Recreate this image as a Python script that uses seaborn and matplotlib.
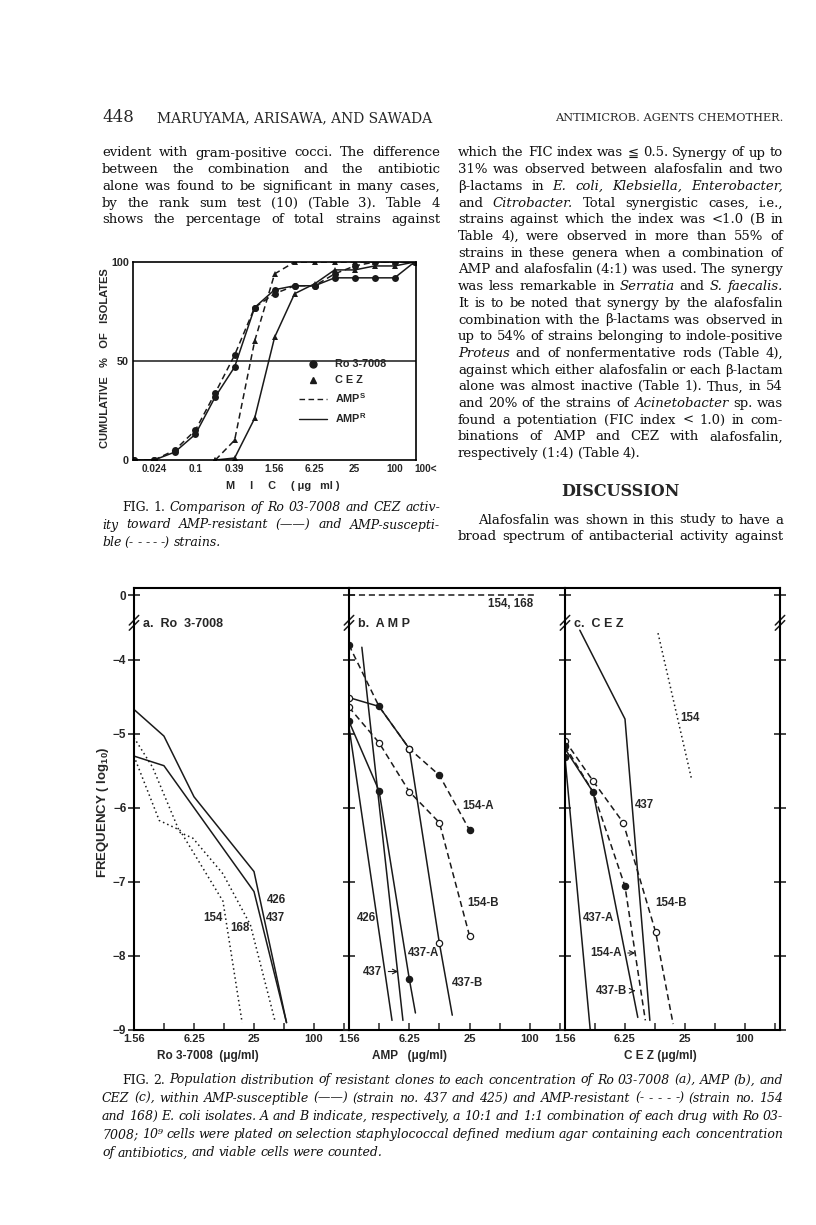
import numpy as np
import pandas as pd
import seaborn as sns
import matplotlib.pyplot as plt
from matplotlib import transforms
from matplotlib.lines import Line2D
from matplotlib.ticker import FixedLocator, NullFormatter

# ---------------- Fig. 1 data (cumulative % of isolates vs MIC)
mic = [0.012, 0.024, 0.049, 0.1, 0.2, 0.39, 0.78, 1.56, 3.12, 6.25, 12.5, 25, 50, 100, 200]
mic_ticks = [0.024, 0.1, 0.39, 1.56, 6.25, 25, 100, 200]
mic_labels = ["0.024", "0.1", "0.39", "1.56", "6.25", "25", "100", "100<"]
ro_amps = [0, 0, 5, 15, 34, 53, 77, 84, 88, 88, 94, 98, 100, 100, 100]
ro_ampr = [0, 0, 4, 13, 32, 47, 77, 86, 88, 88, 92, 92, 92, 92, 100]
cez_mic = [0.2, 0.39, 0.78, 1.56, 3.12, 6.25, 12.5, 25, 50, 100, 200]
cez_amps = [0, 10, 60, 94, 100, 100, 100, 100, 100, 100, 100]
cez_ampr = [0, 1, 21, 62, 84, 89, 96, 96, 98, 98, 100]

# ---------------- Fig. 2 data (log10 frequency vs concentration, ug/ml)
# panel a, Ro 3-7008
a426_c = [1.56, 3.12, 6.25, 25, 53]
a426_v = [-4.67, -5.03, -5.85, -6.86, -8.9]
a437_c = [1.56, 3.12, 25, 53]
a437_v = [-5.3, -5.43, -7.13, -8.9]
a154_c = [1.56, 2.8, 4.5, 12.2, 19]
a154_v = [-5.3, -6.17, -6.3, -7.26, -8.9]
a168_c = [1.56, 2.4, 4.5, 6.1, 12.2, 23, 41]
a168_v = [-5.05, -5.45, -6.33, -6.41, -6.89, -7.58, -8.9]
# panel b, AMP
b154_c = [1.56, 109]
b154_v = [0, 0]
b154A_c = [1.56, 3.12, 6.25, 12.5, 25]
b154A_v = [-3.8, -4.63, -5.2, -5.56, -6.3]
b154B_c = [1.56, 3.12, 6.25, 12.5, 25]
b154B_v = [-4.64, -5.12, -5.78, -6.2, -7.73]
b437A_c = [1.56, 3.12, 6.25, 7.2]
b437A_v = [-4.83, -5.77, -8.31, -8.77]
b437B_c = [1.56, 3.12, 6.25, 12.5, 16.8]
b437B_v = [-4.51, -4.63, -5.2, -7.83, -8.8]
b426_c = [1.56, 4.2]
b426_v = [-4.9, -8.87]
b437_c = [2.1, 5.4]
b437_v = [-3.83, -8.87]
# panel c, CEZ
c437_c = [2.2, 6.25, 11.1]
c437_v = [-3.6, -4.8, -8.87]
c154_c = [13.4, 29.3]
c154_v = [-3.64, -5.63]
c154B_c = [1.56, 3.0, 6.0, 12.7, 19]
c154B_v = [-5.09, -5.64, -6.2, -7.68, -8.92]
c154A_c = [1.56, 3.0, 6.25, 10]
c154A_v = [-5.16, -5.79, -7.06, -8.87]
c437A_c = [1.56, 2.8]
c437A_v = [-5.31, -9.0]
c437B_c = [1.56, 3.0, 8.4]
c437B_v = [-5.2, -5.79, -8.83]

ZPOS = -3.13          # where the "0" level sits above the axis break
SERIF = ["DejaVu Serif", "DejaVu Sans"]
SANS = ["Liberation Sans", "DejaVu Sans"]

sns.set_theme(style="ticks")
plt.rcParams["font.family"] = SANS
plt.rcParams["axes.edgecolor"] = "black"

W, H = 816, 1225
fig = plt.figure(figsize=(W / 100, H / 100), dpi=100)
R = fig.canvas.get_renderer()


def px(x, y):
    return x / W, 1 - y / H


def rect(l, t, r, b):
    return [l / W, 1 - b / H, (r - l) / W, (b - t) / H]


def put_line(x0, x1, y, line, size, italic=False, justify=True, weight="normal"):
    objs, widths = [], []
    for tok in line.split(" "):
        it = italic
        if tok.startswith("~"):
            tok = tok[1:]
            it = not italic
        t = fig.text(0, 0, tok, fontsize=size, family=SERIF, weight=weight,
                     style="italic" if it else "normal", va="center", color="#111")
        objs.append(t)
        widths.append(t.get_window_extent(R).width)
    gap = size * 100 / 72 * 0.28
    if justify and len(objs) > 1:
        gap = (x1 - x0 - sum(widths)) / (len(objs) - 1)
    x = x0
    for t, w in zip(objs, widths):
        t.set_position(px(x, y))
        x += w + gap


# ---------------- page text
fig.text(*px(102, 118), "448", fontsize=12, family=SERIF, va="center")
fig.text(*px(157, 118), "MARUYAMA, ARISAWA, AND SAWADA", fontsize=10, family=SERIF, va="center")
fig.text(*px(783, 118), "ANTIMICROB. AGENTS CHEMOTHER.", fontsize=8.2, family=SERIF,
         va="center", ha="right")

left_lines = [
    "evident with gram-positive cocci. The difference",
    "between the combination and the antibiotic",
    "alone was found to be significant in many cases,",
    "by the rank sum test (10) (Table 3). Table 4",
    "shows the percentage of total strains against",
]
right_lines = [
    "which the FIC index was ≦ 0.5. Synergy of up to",
    "31% was observed between alafosfalin and two",
    "β-lactams in ~E. ~coli, ~Klebsiella, ~Enterobacter,",
    "and ~Citrobacter. Total synergistic cases, i.e.,",
    "strains against which the index was <1.0 (B in",
    "Table 4), were observed in more than 55% of",
    "strains in these genera when a combination of",
    "AMP and alafosfalin (4:1) was used. The synergy",
    "was less remarkable in ~Serratia and ~S. ~faecalis.",
    "It is to be noted that synergy by the alafosfalin",
    "combination with the β-lactams was observed in",
    "up to 54% of strains belonging to indole-positive",
    "~Proteus and of nonfermentative rods (Table 4),",
    "against which either alafosfalin or each β-lactam",
    "alone was almost inactive (Table 1). Thus, in 54",
    "and 20% of the strains of ~Acinetobacter sp. was",
    "found a potentiation (FIC index < 1.0) in com-",
    "binations of AMP and CEZ with alafosfalin,",
    "respectively (1:4) (Table 4).",
]
LS = 16.7
for i, ln in enumerate(left_lines):
    put_line(102, 440, 153 + LS * i, ln, 9.5)
for i, ln in enumerate(right_lines):
    put_line(458, 783, 153 + LS * i, ln, 9.5, justify=i < len(right_lines) - 1)

fig.text(*px(620, 492), "DISCUSSION", fontsize=11.5, family=SERIF, weight="bold",
         ha="center", va="center")
put_line(478, 783, 520, "Alafosfalin was shown in this study to have a", 9.5)
put_line(458, 783, 537, "broad spectrum of antibacterial activity against", 9.5)

put_line(122, 440, 507, "~FIG. ~1. Comparison of Ro 03-7008 and CEZ activ-", 9, italic=True)
put_line(102, 440, 525, "ity toward AMP-resistant (——) and AMP-suscepti-", 9, italic=True)
put_line(102, 440, 543, "ble (- - - - -) strains.", 9, italic=True, justify=False)

cap2 = [
    "~FIG. ~2. Population distribution of resistant clones to each concentration of Ro 03-7008 (a), AMP (b), and",
    "CEZ (c), within AMP-susceptible (——) (strain no. 437 and 425) and AMP-resistant (- - - - -) (strain no. 154",
    "and 168) E. coli isolates. A and B indicate, respectively, a 10:1 and 1:1 combination of each drug with Ro 03-",
    "7008; 10⁹ cells were plated on selection staphylococcal defined medium agar containing each concentration",
    "of antibiotics, and viable cells were counted.",
]
for i, ln in enumerate(cap2):
    put_line(122 if i == 0 else 102, 783, 1080 + 18.2 * i, ln, 9, italic=True,
             justify=i < len(cap2) - 1)

# ---------------- Fig. 1
ax1 = fig.add_axes(rect(133, 262, 416, 460))
f1 = pd.DataFrame({"mic": mic, "ro_s": ro_amps, "ro_r": ro_ampr})
f1c = pd.DataFrame({"mic": cez_mic, "cez_s": cez_amps, "cez_r": cez_ampr})
dash = (0, (4, 2.5))
sns.lineplot(data=f1, x="mic", y="ro_s", ax=ax1, color="k", lw=1.1, linestyle=dash,
             marker="o", markersize=5, markeredgewidth=0, estimator=None, sort=False)
sns.lineplot(data=f1, x="mic", y="ro_r", ax=ax1, color="k", lw=1.1,
             marker="o", markersize=5, markeredgewidth=0, estimator=None, sort=False)
sns.lineplot(data=f1c, x="mic", y="cez_s", ax=ax1, color="k", lw=1.1, linestyle=dash,
             marker="^", markersize=4, markeredgewidth=0, estimator=None, sort=False)
sns.lineplot(data=f1c, x="mic", y="cez_r", ax=ax1, color="k", lw=1.1,
             marker="^", markersize=4, markeredgewidth=0, estimator=None, sort=False)
ax1.axhline(50, color="k", lw=1.1)
ax1.set_xscale("log", base=2)
ax1.set_xlim(0.0115, 210)
ax1.set_ylim(0, 100)
ax1.xaxis.set_major_locator(FixedLocator(mic_ticks))
ax1.xaxis.set_minor_locator(FixedLocator([]))
ax1.set_xticklabels(mic_labels)
ax1.set_yticks([0, 50, 100])
ax1.tick_params(length=0, labelsize=7.8, pad=3)
ax1.tick_params(axis="x", labelsize=7.2)
for lab in ax1.get_xticklabels() + ax1.get_yticklabels():
    lab.set_fontweight("bold")
ax1.get_xticklabels()[-1].set_horizontalalignment("left")
ax1.get_xticklabels()[-1].set_x(0)
ax1.set_xlabel("")
ax1.set_ylabel("")
for s in ax1.spines.values():
    s.set_linewidth(1.2)
fig.text(*px(105, 358), "CUMULATIVE   %   OF   ISOLATES", rotation=90, fontsize=8,
         weight="bold", ha="center", va="center")
fig.text(*px(283, 486), "M     I     C     ( μg   ml )", fontsize=7.8, weight="bold",
         ha="center", va="center")
handles = [
    Line2D([], [], color="k", marker="o", markersize=5, lw=0),
    Line2D([], [], color="k", marker="^", markersize=4, lw=0),
    Line2D([], [], color="k", lw=1.0, linestyle=dash),
    Line2D([], [], color="k", lw=1.0),
]
leg = ax1.legend(handles, ["Ro 3-7008", "C E Z", "AMP$^{\\mathregular{S}}$", "AMP$^{\\mathregular{R}}$"],
                 loc="upper left", bbox_to_anchor=(0.57, 0.53), frameon=False,
                 handlelength=2.6, labelspacing=0.55, fontsize=7.8, borderaxespad=0)
for t in leg.get_texts():
    t.set_fontweight("bold")

# ---------------- Fig. 2
panels = [
    rect(134, 588, 349, 1030),
    rect(349, 588, 565, 1030),
    rect(565, 588, 780, 1030),
]
xmax = 1.5625 * 2 ** (215 / 30)
dot = (0, (1, 2))
solid = "-"


def trace(ax, conc, val, ls, mk=None, fill=True, every=None):
    d = pd.DataFrame({"c": conc, "v": [ZPOS if v == 0 else v for v in val]})
    kw = dict(color="k", lw=1.1, linestyle=ls, estimator=None, sort=False, ax=ax)
    if mk:
        kw.update(marker=mk, markersize=4.5, markerfacecolor="k" if fill else "white",
                  markeredgecolor="k", markeredgewidth=0.9, markevery=every)
    sns.lineplot(data=d, x="c", y="v", **kw)


def breaks(ax, xa):
    tr = transforms.blended_transform_factory(ax.transAxes, ax.transData)
    for dy in (0.0, 0.07):
        ax.plot([xa - 0.022, xa + 0.022], [-3.6 + dy, -3.47 + dy], color="k", lw=1.1,
                transform=tr, clip_on=False)


axes2 = []
for i, r in enumerate(panels):
    ax = fig.add_axes(r)
    axes2.append(ax)

axa, axb, axc = axes2
trace(axa, a426_c, a426_v, solid)
trace(axa, a437_c, a437_v, solid)
trace(axa, a154_c, a154_v, dot)
trace(axa, a168_c, a168_v, dot)

trace(axb, b154_c, b154_v, dash)
trace(axb, b154A_c, b154A_v, dash, "o", True)
trace(axb, b154B_c, b154B_v, dash, "o", False)
trace(axb, b437A_c, b437A_v, solid, "o", True, [0, 1, 2])
trace(axb, b437B_c, b437B_v, solid, "o", False, [0, 2, 3])
trace(axb, b426_c, b426_v, solid)
trace(axb, b437_c, b437_v, solid)

trace(axc, c437_c, c437_v, solid)
trace(axc, c154_c, c154_v, dot)
trace(axc, c154B_c, c154B_v, dash, "o", False, [0, 1, 2, 3])
trace(axc, c154A_c, c154A_v, dash, "o", True, [0, 1, 2])
trace(axc, c437A_c, c437A_v, solid, "o", True, [0])
trace(axc, c437B_c, c437B_v, solid)

xlab = ["Ro 3-7008  (μg/ml)", "AMP   (μg/ml)", "C E Z (μg/ml)"]
xlab_x = [208, 410, 660]
tags = ["a.  Ro  3-7008", "b.  A M P", "c.  C E Z"]
for i, ax in enumerate(axes2):
    ax.set_xscale("log", base=2)
    ax.set_xlim(1.5625, xmax)
    ax.set_ylim(-9, -3.03)
    ax.xaxis.set_major_locator(FixedLocator([1.5625, 6.25, 25, 100]))
    ax.xaxis.set_minor_locator(FixedLocator([3.125, 12.5, 50, 200]))
    ax.xaxis.set_minor_formatter(NullFormatter())
    ax.set_xticklabels(["1.56", "6.25", "25", "100"])
    ax.set_yticks([ZPOS, -4, -5, -6, -7, -8, -9])
    ax.set_yticklabels(["0", "−4", "−5", "−6", "−7", "−8", "−9"])
    ax.tick_params(axis="x", which="both", direction="in", length=5, width=1.1,
                   labelsize=8, pad=3)
    ax.tick_params(axis="y", direction="inout", length=9, width=1.2, labelsize=8.5,
                   labelleft=(i == 0), right=(i == 2), pad=1)
    for lab in ax.get_xticklabels() + ax.get_yticklabels():
        lab.set_fontweight("bold")
    ax.set_xlabel("")
    ax.set_ylabel("")
    for s in ax.spines.values():
        s.set_linewidth(1.5)
    if i < 2:
        ax.spines["right"].set_visible(False)
    breaks(ax, 0)
    fig.text(*px(xlab_x[i], 1056), xlab[i], fontsize=8.5, weight="bold", ha="center", va="center")
    ax.text(0.04, -3.52, tags[i], transform=transforms.blended_transform_factory(ax.transAxes, ax.transData),
            fontsize=9, weight="bold", va="center")
breaks(axc, 1)

fig.text(*px(103, 812), "FREQUENCY ( log$_{\\mathregular{10}}$)", rotation=90, fontsize=9.5,
         weight="bold", ha="center", va="center")

lab_kw = dict(fontsize=8.3, weight="bold", va="center")
arr = dict(arrowstyle="->", lw=0.8, color="k", shrinkA=2, shrinkB=0)
# panel a labels
axa.text(33.7, -7.25, "426", **lab_kw)
axa.text(33.0, -7.49, "437", **lab_kw)
axa.text(12.2, -7.49, "154", ha="right", **lab_kw)
axa.text(14.4, -7.62, "168", **lab_kw)
# panel b labels
axb.text(109, -3.25, "154, 168", ha="right", **lab_kw)
axb.text(21.3, -5.97, "154-A", **lab_kw)
axb.text(23.8, -7.28, "154-B", **lab_kw)
axb.text(1.88, -7.49, "426", **lab_kw)
axb.text(6.1, -7.96, "437-A", **lab_kw)
axb.annotate("437", xy=(4.85, -8.21), xytext=(3.36, -8.21), ha="right", arrowprops=arr, **lab_kw)
axb.text(16.8, -8.36, "437-B", **lab_kw)
# panel c labels
axc.text(22.2, -4.78, "154", **lab_kw)
axc.text(7.86, -5.96, "437", **lab_kw)
axc.text(12.5, -7.28, "154-B", **lab_kw)
axc.text(2.37, -7.49, "437-A", **lab_kw)
axc.annotate("154-A", xy=(7.9, -7.96), xytext=(2.8, -7.96), arrowprops=arr, **lab_kw)
axc.annotate("437-B", xy=(7.9, -8.47), xytext=(3.2, -8.47), arrowprops=arr, **lab_kw)

fig.savefig("out.png", dpi=100, facecolor="white")
